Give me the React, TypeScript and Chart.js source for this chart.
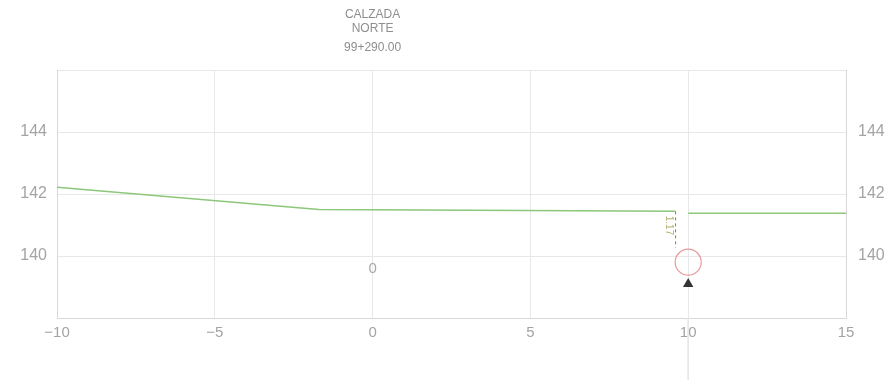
import React, { useEffect, useRef } from "react";
import { Chart, registerables } from "chart.js";

Chart.register(...registerables);

// ---- data ----
const titleLines = ["CALZADA", "NORTE", "99+290.00"];
const groundLeftX = [-10, -1.7, 9.6];
const groundLeftY = [142.22, 141.5, 141.44];
const groundRightX = [10, 15];
const groundRightY = [141.38, 141.38];
const dimX = [9.6, 9.6];
const dimY = [141.44, 140.27];
const dimLabel = "1.17";
const markerX = 10;
const markerY = 139.8;
const arrowY = 139.1;
const axisLineX = [10, 10];
const axisLineY = [138, 136];
const centerLabel = "0";
const centerLabelX = 0;
const centerLabelY = 139.6;
const xMin = -10, xMax = 15, xStep = 5;
const yMin = 138, yMax = 146, yStep = 2;
const yLabelled = [140, 142, 144];

const pts = (xs: number[], ys: number[]) => xs.map((x, i) => ({ x, y: ys[i] }));
const GRAY = "#a4a4a4";
const FONT = "'Liberation Sans', 'DejaVu Sans', sans-serif";

const annotPlugin = {
  id: "annot",
  afterDraw(chart: any) {
    const { ctx, scales } = chart;
    const xs = scales.x, ys = scales.y;
    ctx.save();
    // title centred over x = 0
    const tx = xs.getPixelForValue(0);
    ctx.fillStyle = "#8e8e8e";
    ctx.textAlign = "center";
    ctx.textBaseline = "middle";
    ctx.font = `12px ${FONT}`;
    const ty = [15, 29, 48];
    titleLines.forEach((t, i) => ctx.fillText(t, tx, ty[i]));
    // centre "0"
    ctx.font = `15px ${FONT}`;
    ctx.fillStyle = "#a8a8a8";
    ctx.fillText(centerLabel, xs.getPixelForValue(centerLabelX), ys.getPixelForValue(centerLabelY));
    // dimension label
    const lx = xs.getPixelForValue(dimX[0]) - 7;
    const ly = ys.getPixelForValue((dimY[0] + dimY[1]) / 2) - 4;
    ctx.translate(lx, ly);
    ctx.rotate(Math.PI / 2);
    ctx.font = `10px ${FONT}`;
    ctx.fillStyle = "#b5b070";
    ctx.fillText(dimLabel, 0, 0);
    ctx.restore();
  },
};

export default function App() {
  const ref = useRef<HTMLCanvasElement>(null);
  useEffect(() => {
    if (!ref.current) return;
    const chart = new Chart(ref.current, {
      type: "scatter",
      data: {
        datasets: [
          {
            data: pts(groundLeftX, groundLeftY),
            showLine: true,
            borderColor: "#8cc77a",
            borderWidth: 1.5,
            pointRadius: 0,
          },
          {
            data: pts(groundRightX, groundRightY),
            showLine: true,
            borderColor: "#8cc77a",
            borderWidth: 1.5,
            pointRadius: 0,
          },
          {
            data: pts(dimX, dimY),
            showLine: true,
            borderColor: "#6c8f4a",
            borderWidth: 1,
            borderDash: [3, 3],
            pointRadius: 0,
          },
          {
            data: [{ x: markerX, y: markerY }],
            pointStyle: "circle",
            pointRadius: 13,
            pointBorderColor: "#e79a9a",
            pointBackgroundColor: "rgba(0,0,0,0)",
            pointBorderWidth: 1.2,
          },
          {
            data: [{ x: markerX, y: arrowY }],
            pointStyle: "triangle",
            pointRadius: 6,
            pointBorderColor: "#333",
            pointBackgroundColor: "#333",
            pointBorderWidth: 0,
          },
          {
            data: pts(axisLineX, axisLineY),
            showLine: true,
            borderColor: "#e6e6e6",
            borderWidth: 1,
            pointRadius: 0,
            clip: false as any,
          },
        ],
      },
      options: {
        animation: false,
        responsive: true,
        maintainAspectRatio: false,
        layout: { padding: { top: 70, left: 0, right: 0, bottom: 0 } },
        plugins: { legend: { display: false }, tooltip: { enabled: false }, title: { display: false } },
        scales: {
          x: {
            type: "linear",
            min: xMin,
            max: xMax,
            ticks: {
              stepSize: xStep,
              color: GRAY,
              font: { size: 15, family: FONT },
              padding: 6,
              callback: (v: any) => (Number(v) < 0 ? "\u2212" + Math.abs(Number(v)) : String(v)),
            },
            grid: { color: "#e8e8e8", drawTicks: false },
            border: { color: "#d8d8d8" },
            afterFit: (s: any) => { s.height = 64; },
          },
          y: {
            type: "linear",
            position: "left",
            min: yMin,
            max: yMax,
            ticks: {
              stepSize: yStep,
              color: GRAY,
              font: { size: 16, family: FONT },
              padding: 10,
              callback: (v: any) => (yLabelled.includes(Number(v)) ? String(v) : ""),
            },
            grid: { color: "#e8e8e8", drawTicks: false },
            border: { color: "#d8d8d8" },
            afterFit: (s: any) => { s.width = 57; },
          },
          y2: {
            type: "linear",
            position: "right",
            min: yMin,
            max: yMax,
            ticks: {
              stepSize: yStep,
              color: GRAY,
              font: { size: 16, family: FONT },
              padding: 12,
              callback: (v: any) => (yLabelled.includes(Number(v)) ? String(v) : ""),
            },
            grid: { display: false, drawTicks: false },
            border: { color: "#d8d8d8" },
            afterFit: (s: any) => { s.width = 48; },
          },
        },
      },
      plugins: [annotPlugin],
    } as any);
    return () => chart.destroy();
  }, []);
  return (
    <div style={{ position: "fixed", left: 0, top: 0, width: 894, height: 382, background: "#fff" }}>
      <canvas ref={ref} />
    </div>
  );
}
